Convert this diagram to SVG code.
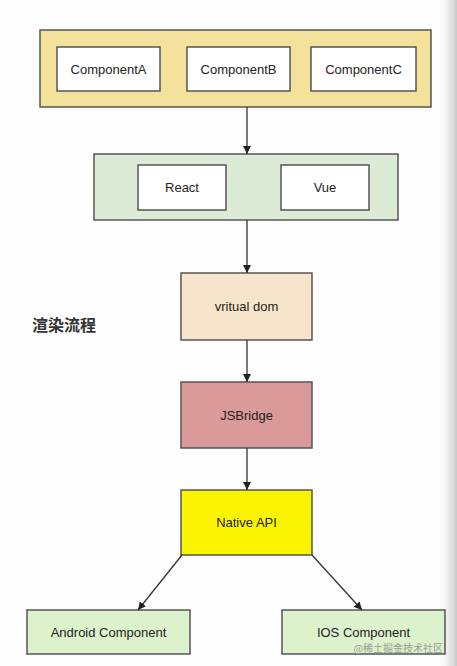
<svg xmlns="http://www.w3.org/2000/svg" width="457" height="666" viewBox="0 0 457 666">
<defs>
<marker id="arr" viewBox="0 0 10 10" refX="10" refY="5" markerWidth="8" markerHeight="8" markerUnits="userSpaceOnUse" orient="auto">
<path d="M0,0 L10,5 L0,10 Z" fill="#222"/>
</marker>
<linearGradient id="edge" x1="0" y1="0" x2="1" y2="0">
<stop offset="0" stop-color="#ffffff" stop-opacity="0"/>
<stop offset="1" stop-color="#c8c8c8"/>
</linearGradient>
<style>
.box{stroke:#555;stroke-width:1.5}
.inner{fill:#fff;stroke:#555;stroke-width:1.5}
.t{font-family:"Liberation Sans",Arial,sans-serif;font-size:13px;fill:#222;text-anchor:middle;dominant-baseline:central}
.c{stroke:#333;stroke-width:1.3;fill:none;marker-end:url(#arr)}
</style>
</defs>
<rect width="457" height="666" fill="#fdfdfd"/>
<rect x="436" y="0" width="21" height="666" fill="url(#edge)"/>

<g id="frontend">
<rect class="box" x="40" y="30" width="391" height="77" fill="#f3e19c"/>
<g id="componentA"><rect class="inner" x="57" y="47" width="103" height="44"/><text class="t" x="108.5" y="69">ComponentA</text></g>
<g id="componentB"><rect class="inner" x="187" y="47" width="103" height="44"/><text class="t" x="238.5" y="69">ComponentB</text></g>
<g id="componentC"><rect class="inner" x="311" y="47" width="105" height="44"/><text class="t" x="363.5" y="69">ComponentC</text></g>
</g>

<g id="framework">
<rect class="box" x="94" y="154" width="304" height="66" fill="#dcebd5"/>
<g id="react"><rect class="inner" x="138" y="165" width="88" height="45"/><text class="t" x="182" y="187.5">React</text></g>
<g id="vue"><rect class="inner" x="281" y="165" width="88" height="45"/><text class="t" x="325" y="187.5">Vue</text></g>
</g>

<g id="vdom"><rect class="box" x="181" y="273" width="131" height="67" fill="#f7e5cb"/><text class="t" x="246.5" y="306.5">vritual dom</text></g>

<g id="label"><text x="32" y="324" font-family="'Noto Sans CJK SC','Noto Sans',sans-serif" font-size="16" font-weight="bold" fill="#333" dominant-baseline="central">渲染流程</text></g>

<g id="jsbridge"><rect class="box" x="181" y="382" width="131" height="66" fill="#d99a99"/><text class="t" x="246.5" y="415">JSBridge</text></g>

<g id="native"><rect class="box" x="181" y="490" width="131" height="65" fill="#fbf400"/><text class="t" x="246.5" y="522.5">Native API</text></g>

<g id="android"><rect class="box" x="27" y="610" width="163" height="44" fill="#dcf2cd"/><text class="t" x="108.5" y="632">Android Component</text></g>

<g id="ios"><rect class="box" x="282" y="610" width="163" height="44" fill="#dcf2cd"/><text class="t" x="363.5" y="632">IOS Component</text></g>

<g id="connectors">
<line class="c" x1="247" y1="107" x2="247" y2="154"/>
<line class="c" x1="247" y1="220" x2="247" y2="273"/>
<line class="c" x1="247" y1="340" x2="247" y2="382"/>
<line class="c" x1="247" y1="448" x2="247" y2="490"/>
<line class="c" x1="182" y1="555" x2="138" y2="610"/>
<line class="c" x1="312" y1="555" x2="362" y2="610"/>
</g>

<text x="443" y="647" font-family="'Noto Sans CJK SC','Noto Sans',sans-serif" font-size="10" fill="#9a9a9a" text-anchor="end" dominant-baseline="central">@稀土掘金技术社区</text>
</svg>
